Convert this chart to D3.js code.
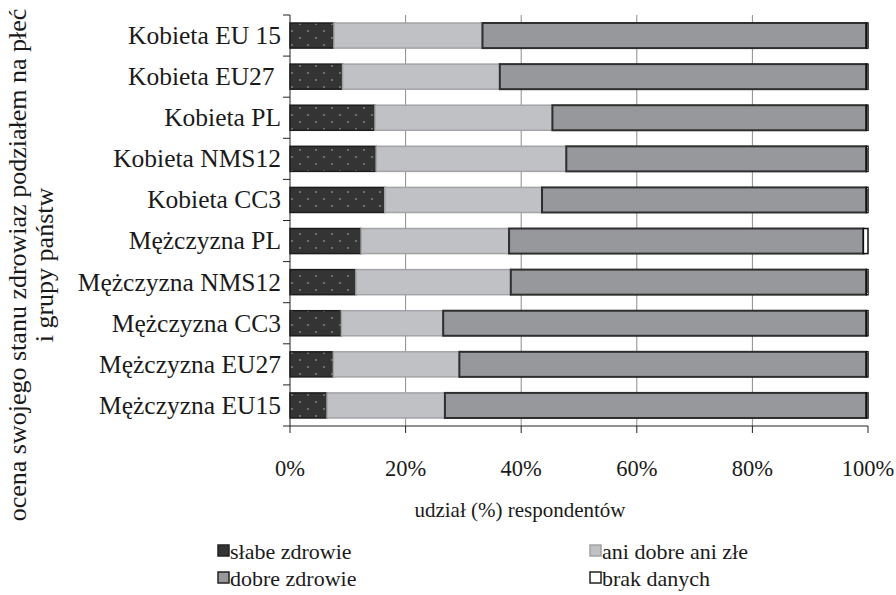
<!DOCTYPE html>
<html>
<head>
<meta charset="utf-8">
<script src="https://cdn.jsdelivr.net/npm/d3@7"></script>
<style>
  html, body { margin: 0; padding: 0; background: #fff; }
  svg { display: block; }
  svg text { font-family: "Liberation Serif", "Times New Roman", Times, serif; fill: #1a1a1a; }
</style>
</head>
<body>
<svg id="chart" width="896" height="595" font-family="Liberation Serif, Times New Roman, serif"></svg>
<script>
// Groups (top to bottom)
const categories = [
  "Kobieta EU 15", "Kobieta EU27 ", "Kobieta PL", "Kobieta NMS12", "Kobieta CC3",
  "Mężczyzna PL", "Mężczyzna NMS12", "Mężczyzna CC3", "Mężczyzna EU27", "Mężczyzna EU15"
];
// Share of respondents (%) per self-rated health answer
const slabe = [7.6, 9.1, 14.7, 14.9, 16.4, 12.3, 11.4, 8.9, 7.5, 6.4];
const ani   = [25.7, 27.2, 30.7, 32.9, 27.2, 25.6, 26.8, 17.6, 21.8, 20.4];
const dobre = [66.4, 63.4, 54.3, 51.9, 56.1, 61.3, 61.5, 73.2, 70.4, 72.9];
const brak  = [0.3, 0.3, 0.3, 0.3, 0.3, 0.8, 0.3, 0.3, 0.3, 0.3];
const seriesNames = ["słabe zdrowie", "ani dobre ani złe", "dobre zdrowie", "brak danych"];
const xTicks = [0, 20, 40, 60, 80, 100];

const svg = d3.select("#chart");
const plotL = 290, plotR = 868, plotT = 15, plotB = 426;

const x = d3.scaleLinear().domain([0, 100]).range([plotL, plotR]);
const y = d3.scaleBand().domain(categories).range([plotT, plotB])
  .paddingInner(0.39).paddingOuter(0.195);

// dotted fill for the "słabe zdrowie" segments
const defs = svg.append("defs");
const pat = defs.append("pattern").attr("id", "dots")
  .attr("patternUnits", "userSpaceOnUse").attr("width", 16).attr("height", 14);
pat.append("rect").attr("width", 16).attr("height", 14).attr("fill", "#343434");
pat.append("circle").attr("cx", 4).attr("cy", 3).attr("r", 0.9).attr("fill", "#8a8a8a");
pat.append("circle").attr("cx", 12).attr("cy", 10).attr("r", 0.9).attr("fill", "#8a8a8a");

const styles = [
  { fill: "url(#dots)", stroke: "#1c1c1c", sw: 1.5 },
  { fill: "#c0c1c4", stroke: "#a2a3a6", sw: 1.5 },
  { fill: "#97989b", stroke: "#2e2e2e", sw: 2 },
  { fill: "#ffffff", stroke: "#111111", sw: 1.5 }
];

// gridlines
svg.append("g").selectAll("line").data(xTicks.filter(t => t > 0 && t < 100)).join("line")
  .attr("x1", d => x(d)).attr("x2", d => x(d))
  .attr("y1", plotT).attr("y2", plotB)
  .attr("stroke", "#8c8c8c").attr("stroke-width", 1);

// stacked bars
const stackRows = categories.map((c, i) => ({ cat: c, vals: [slabe[i], ani[i], dobre[i], brak[i]] }));
const barG = svg.append("g");
stackRows.forEach(row => {
  let acc = 0;
  const segs = row.vals.map((v, k) => { const s = { k, x0: acc, x1: acc + v }; acc += v; return s; });
  barG.selectAll(null).data(segs).join("rect")
    .attr("x", d => x(d.x0)).attr("width", d => x(d.x1) - x(d.x0))
    .attr("y", y(row.cat)).attr("height", y.bandwidth())
    .attr("fill", d => styles[d.k].fill)
    .attr("stroke", d => styles[d.k].stroke)
    .attr("stroke-width", d => styles[d.k].sw);
});

// y axis (category axis)
svg.append("line").attr("x1", plotL).attr("x2", plotL).attr("y1", plotT).attr("y2", plotB)
  .attr("stroke", "#222").attr("stroke-width", 1);
const bounds = categories.map(c => y(c) - y.step() * y.paddingInner() / 2).concat([plotB]);
svg.append("g").selectAll("line").data(bounds).join("line")
  .attr("x1", plotL - 7).attr("x2", plotL).attr("y1", d => d).attr("y2", d => d)
  .attr("stroke", "#222").attr("stroke-width", 1);
svg.append("g").selectAll("text").data(categories).join("text")
  .attr("x", 281).attr("y", d => y(d) + y.bandwidth() / 2)
  .attr("dy", "0.33em").attr("text-anchor", "end")
  .style("white-space", "pre")
  .attr("font-size", 25.5).text(d => d);

// x axis
svg.append("line").attr("x1", plotL).attr("x2", plotR).attr("y1", plotB).attr("y2", plotB)
  .attr("stroke", "#222").attr("stroke-width", 1);
svg.append("g").selectAll("line").data(xTicks).join("line")
  .attr("x1", d => x(d)).attr("x2", d => x(d)).attr("y1", plotB).attr("y2", plotB + 7)
  .attr("stroke", "#222").attr("stroke-width", 1);
svg.append("g").selectAll("text").data(xTicks).join("text")
  .attr("x", d => x(d)).attr("y", 476).attr("text-anchor", "middle")
  .attr("font-size", 22.5).text(d => d + "%");

svg.append("text").attr("x", 520).attr("y", 517).attr("text-anchor", "middle")
  .attr("font-size", 21).text("udział (%) respondentów");

// y axis title
const yt = svg.append("text").attr("transform", "translate(26,265) rotate(-90)")
  .attr("text-anchor", "middle").attr("font-size", 26);
yt.append("tspan").attr("x", 0).attr("dy", 0).text("ocena swojego stanu zdrowiaz podziałem na płeć");
yt.append("tspan").attr("x", 0).attr("dy", 27).text("i grupy państw");

// legend
const legPos = [[217, 551], [589, 551], [217, 578], [589, 578]];
const leg = svg.append("g").selectAll("g").data(seriesNames).join("g")
  .attr("transform", (d, i) => `translate(${legPos[i][0]},${legPos[i][1]})`);
leg.append("rect").attr("x", 1).attr("y", -6).attr("width", 11).attr("height", 11)
  .attr("fill", (d, i) => i === 0 ? "#343434" : styles[i].fill)
  .attr("stroke", (d, i) => i === 1 ? "#a2a3a6" : "#222").attr("stroke-width", 1.5);
leg.append("text").attr("x", 13).attr("dy", "0.35em").attr("font-size", 22).text(d => d);
</script>
</body>
</html>
